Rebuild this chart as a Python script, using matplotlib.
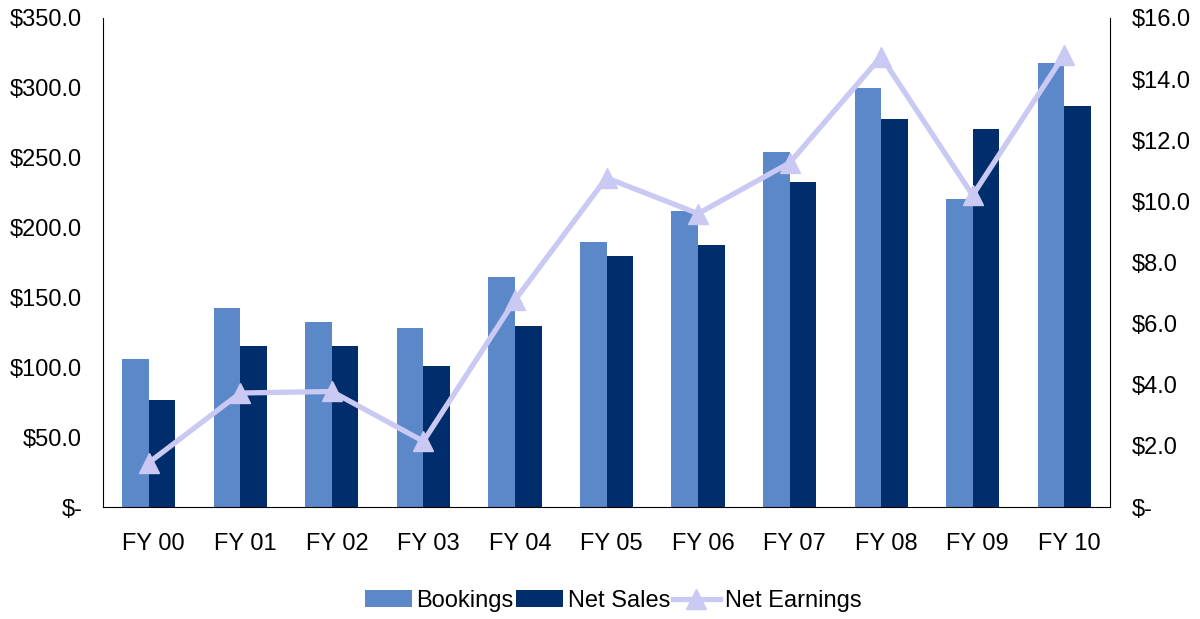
import matplotlib
matplotlib.use("Agg")
import matplotlib.pyplot as plt
import matplotlib.transforms as mtransforms
import numpy as np
from matplotlib.ticker import FuncFormatter

plt.rcParams['font.family'] = ['Liberation Sans', 'DejaVu Sans']

categories = ["FY 00", "FY 01", "FY 02", "FY 03", "FY 04", "FY 05",
              "FY 06", "FY 07", "FY 08", "FY 09", "FY 10"]
bookings = [105.7, 142.2, 132.6, 128.4, 164.8, 190.0, 211.7, 254.3, 300.2, 220.3, 317.6]
net_sales = [76.6, 115.2, 115.2, 101.2, 129.6, 180.0, 187.5, 232.9, 277.5, 270.8, 287.0]
net_earnings = [1.45, 3.73, 3.78, 2.15, 6.77, 10.77, 9.6, 11.26, 14.74, 10.2, 14.8]

c_book = "#5A88C8"
c_sales = "#002E6C"
c_earn = "#C9C9F3"
fs = 17

fig = plt.figure(figsize=(12, 6.19), dpi=100)
ax = fig.add_axes([103/1200, 1 - 507/619, (1110-103)/1200, (507-18)/619])
x = np.arange(len(categories))
w = 0.29
b1 = ax.bar(x - w/2, bookings, width=w, color=c_book, label="Bookings", zorder=2)
b2 = ax.bar(x + w/2, net_sales, width=w, color=c_sales, label="Net Sales", zorder=2)
ax.set_xlim(-0.5, len(categories) - 0.5)
ax.set_ylim(0, 350)
ax.set_yticks(np.arange(0, 351, 50))

def lfmt(v, p):
    return "$-" if abs(v) < 1e-9 else f"${v:.1f}"

ax.yaxis.set_major_formatter(FuncFormatter(lfmt))
ax.set_xticks(x)
ax.set_xticklabels(categories)
ax.tick_params(axis='both', length=0, labelsize=fs)
ax.tick_params(axis='y', pad=15)
ax.tick_params(axis='x', pad=19)
offset = mtransforms.ScaledTranslation(5/100, 0, fig.dpi_scale_trans)
for lbl in ax.get_xticklabels():
    lbl.set_transform(lbl.get_transform() + offset)
for s in ['top', 'right']:
    ax.spines[s].set_visible(False)
ax.spines['left'].set_color('black')
ax.spines['bottom'].set_color('black')

ax2 = ax.twinx()
ax2.set_ylim(0, 16)
ax2.set_yticks(np.arange(0, 16.1, 2))
ax2.yaxis.set_major_formatter(FuncFormatter(lfmt))
ax2.tick_params(axis='y', length=0, labelsize=fs, pad=16)
for s in ['top', 'left', 'bottom']:
    ax2.spines[s].set_visible(False)
ax2.spines['right'].set_color('black')
ln, = ax2.plot(x, net_earnings, color=c_earn, lw=3.8, marker='^', markersize=14,
               label="Net Earnings", zorder=3)

fig.legend([b1, b2, ln], ["Bookings", "Net Sales", "Net Earnings"],
           loc='center', bbox_to_anchor=(613/1200, 1 - 601/619), ncol=3,
           frameon=False, fontsize=fs, handlelength=2.0, handletextpad=0.2,
           columnspacing=0.1, borderpad=0)

fig.savefig("out.png", dpi=100)
